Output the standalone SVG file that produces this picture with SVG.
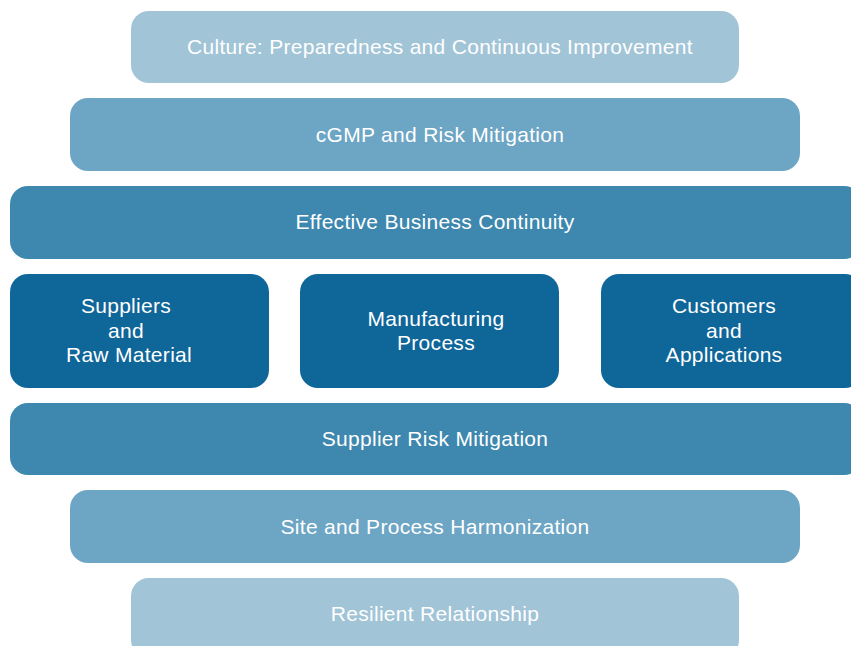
<svg xmlns="http://www.w3.org/2000/svg" width="851" height="646" viewBox="0 0 851 646">
<style>
.l1{fill:#A1C4D7}.l2{fill:#6DA5C4}.l3{fill:#3E87AE}.l4{fill:#0F6699}
text{font-family:"Liberation Sans",Arial,sans-serif;font-size:21px;letter-spacing:0.3px;fill:#ffffff;text-anchor:middle}
</style>
<g id="culture"><rect class="l1" x="131" y="11" width="608" height="72" rx="18"/><text x="440" y="54">Culture: Preparedness and Continuous Improvement</text></g>
<g id="cgmp"><rect class="l2" x="70" y="98" width="730" height="73" rx="18"/><text x="440" y="142">cGMP and Risk Mitigation</text></g>
<g id="ebc"><rect class="l3" x="10" y="186" width="852" height="73" rx="18"/><text x="435" y="229">Effective Business Continuity</text></g>
<g id="suppliers"><rect class="l4" x="10" y="274" width="259" height="114" rx="18"/><text x="126" y="313">Suppliers</text><text x="126" y="338">and</text><text x="129" y="362">Raw Material</text></g>
<g id="manufacturing"><rect class="l4" x="300" y="274" width="259" height="114" rx="18"/><text x="436" y="326">Manufacturing</text><text x="436" y="350">Process</text></g>
<g id="customers"><rect class="l4" x="601" y="274" width="262" height="114" rx="18"/><text x="724" y="313">Customers</text><text x="724" y="338">and</text><text x="724" y="362">Applications</text></g>
<g id="srm"><rect class="l3" x="10" y="403" width="852" height="72" rx="18"/><text x="435" y="446">Supplier Risk Mitigation</text></g>
<g id="site"><rect class="l2" x="70" y="490" width="730" height="73" rx="18"/><text x="435" y="534">Site and Process Harmonization</text></g>
<g id="resilient"><rect class="l1" x="131" y="578" width="608" height="80" rx="18"/><text x="435" y="621">Resilient Relationship</text></g>
<g id="connectors"></g>
</svg>
